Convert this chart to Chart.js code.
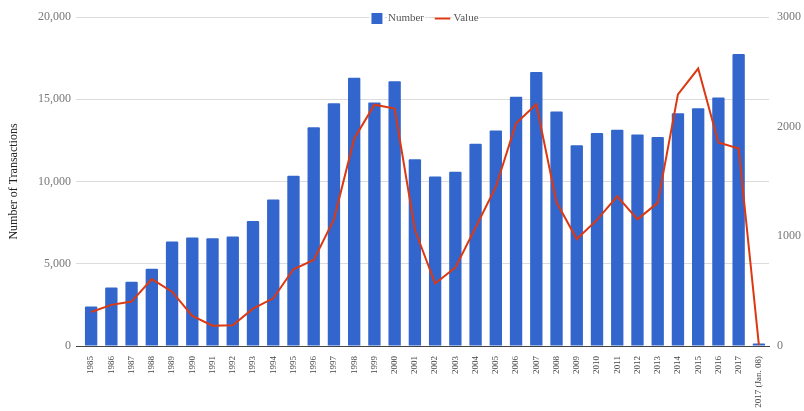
<!DOCTYPE html>
<html>
<head>
<meta charset="utf-8">
<script src="https://cdn.jsdelivr.net/npm/chart.js@4.4.1/dist/chart.umd.min.js"></script>
<style>
  html, body { margin: 0; padding: 0; background: #ffffff; }
  #wrap { width: 804px; height: 411px; position: relative; }
</style>
</head>
<body>
<div id="wrap"><canvas id="c"></canvas></div>
<script>
const categories = ["1985","1986","1987","1988","1989","1990","1991","1992","1993","1994","1995","1996","1997","1998","1999","2000","2001","2002","2003","2004","2005","2006","2007","2008","2009","2010","2011","2012","2013","2014","2015","2016","2017","2017 (Jan. 08)"];
const numberValues = [2400,3550,3900,4700,6350,6600,6550,6650,7600,8900,10350,13300,14750,16300,14800,16100,11350,10300,10600,12300,13100,15150,16650,14250,12200,12950,13150,12850,12700,14150,14450,15100,17750,150];
const valueValues = [310,375,405,610,495,275,185,190,340,435,700,785,1155,1890,2200,2165,1060,570,715,1080,1450,2030,2205,1310,975,1150,1365,1155,1305,2295,2530,1855,1800,10];
const leftTicks = [0,5000,10000,15000,20000];
const rightTicks = [0,1000,2000,3000];
const seriesNames = ["Number","Value"];

const serif = "'Liberation Serif', 'Times New Roman', serif";
const legendFontSize = 11;

const legendPlugin = {
  id: 'legendTweak',
  afterInit(chart) {
    const lg = chart.legend;
    const origDraw = lg.draw;
    lg.draw = function (area) {
      const ctx = this.ctx;
      const pad = this.options.labels.padding;
      const cy = this.top + pad + legendFontSize / 2;
      ctx.save();
      ctx.fillStyle = '#ffffff';
      (this.legendHitBoxes || []).forEach((hb) => {
        const bw = legendFontSize;
        ctx.fillRect(hb.left - 2, cy - 8, bw + 4, 16);
        const tx = hb.left + bw + legendFontSize / 2;
        ctx.fillRect(tx - 1, cy - 8, hb.left + hb.width - tx + 2, 16);
      });
      ctx.restore();
      origDraw.call(this, area);
    };
  },
  afterLayout(chart) {
    const lg = chart.legend;
    lg.top = 0;
    lg.height = 40;
    lg.bottom = 40;
  }
};

new Chart(document.getElementById('c'), {
  data: {
    labels: categories,
    datasets: [
      {
        type: 'bar',
        label: seriesNames[0],
        data: numberValues,
        backgroundColor: '#3366CC',
        borderWidth: 0,
        borderRadius: 1,
        categoryPercentage: 1.0,
        barPercentage: 0.61,
        yAxisID: 'y',
        order: 1,
        pointStyle: 'rect'
      },
      {
        type: 'line',
        label: seriesNames[1],
        data: valueValues,
        borderColor: '#DC3912',
        backgroundColor: '#DC3912',
        borderWidth: 2,
        pointRadius: 0,
        tension: 0,
        yAxisID: 'y1',
        order: 0,
        pointStyle: 'line'
      }
    ]
  },
  plugins: [legendPlugin],
  options: {
    responsive: true,
    maintainAspectRatio: false,
    animation: false,
    layout: { padding: 0 },
    plugins: {
      tooltip: { enabled: false },
      legend: {
        position: 'top',
        fullSize: false,
        maxHeight: 17,
        labels: {
          usePointStyle: true,
          padding: 13,
          color: '#555',
          font: { family: serif, size: legendFontSize },
          sort: (a, b) => a.datasetIndex - b.datasetIndex
        }
      }
    },
    scales: {
      x: {
        grid: { display: false },
        border: { display: true, color: '#444', width: 1 },
        ticks: {
          autoSkip: false,
          minRotation: 90,
          maxRotation: 90,
          padding: 2,
          color: '#444',
          font: { family: serif, size: 9 }
        },
        afterFit: (s) => { s.height = 65; }
      },
      y: {
        position: 'left',
        min: 0,
        max: 20000,
        afterBuildTicks: (s) => { s.ticks = leftTicks.map(v => ({ value: v })); },
        grid: {
          color: (ctx) => (ctx.tick && ctx.tick.value === 0) ? '#444' : '#dcdcdc',
          tickLength: 5,
          drawTicks: true
        },
        border: { display: false },
        ticks: {
          padding: 5,
          color: '#777',
          font: { family: serif, size: 12 },
          callback: (v) => v.toLocaleString('en-US')
        },
        title: {
          display: true,
          text: 'Number of Transactions',
          color: '#222',
          font: { family: serif, size: 12 },
          padding: { top: 7, bottom: 0 }
        },
        afterFit: (s) => { s.width = 81; }
      },
      y1: {
        position: 'right',
        min: 0,
        max: 3000,
        afterBuildTicks: (s) => { s.ticks = rightTicks.map(v => ({ value: v })); },
        grid: { display: false, drawOnChartArea: false, drawTicks: false, tickLength: 0 },
        border: { display: false },
        ticks: {
          padding: 8,
          color: '#777',
          font: { family: serif, size: 12 },
          callback: (v) => String(v)
        },
        afterFit: (s) => { s.width = 35; }
      }
    }
  }
});
</script>
</body>
</html>
